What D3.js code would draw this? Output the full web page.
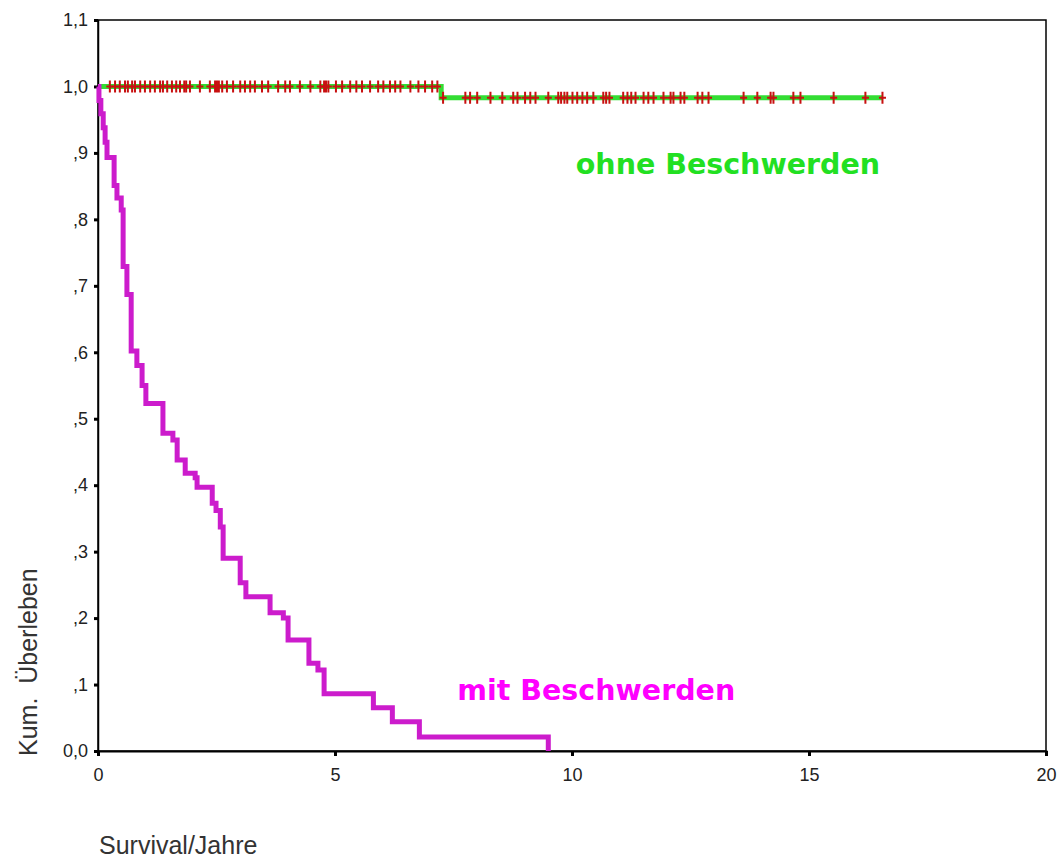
<!DOCTYPE html>
<html>
<head>
<meta charset="utf-8">
<script src="https://cdn.jsdelivr.net/npm/d3@7"></script>
<style>
  html, body { margin: 0; padding: 0; background: #fff; }
  #chart-area { width: 1057px; height: 856px; }
</style>
</head>
<body>
<div id="chart-area"></div>
<script>
// mit Beschwerden: Zeitpunkte (Jahre) der Stufen und Überleben danach
const mitTimes = [0, 0.02, 0.06, 0.11, 0.15, 0.19, 0.34, 0.40, 0.49, 0.53, 0.61, 0.70, 0.82, 0.93, 1.01,
    1.37, 1.58, 1.67, 1.84, 2.05, 2.09, 2.41, 2.49, 2.58, 2.64, 3.00, 3.12, 3.63, 3.91, 4.01,
    4.45, 4.64, 4.77, 5.81, 6.21, 6.78, 9.50];
const mitSurv = [1.0, 0.979, 0.959, 0.938, 0.916, 0.893, 0.851, 0.832, 0.814, 0.729, 0.687, 0.602, 0.580, 0.550, 0.523,
    0.478, 0.468, 0.438, 0.418, 0.411, 0.397, 0.373, 0.362, 0.337, 0.290, 0.253, 0.232, 0.208, 0.200, 0.167,
    0.132, 0.122, 0.086, 0.065, 0.044, 0.021, 0.0];

// ohne Beschwerden
const ohneTimes = [0, 7.24, 16.55];
const ohneSurv = [1.0, 0.983, 0.983];
// zensierte Fälle (Jahre)
const ohneCensored = [0.25, 0.36, 0.46, 0.57, 0.63, 0.72, 0.78, 0.89, 0.99, 1.10, 1.20, 1.31, 1.37, 1.46, 1.56,
    1.65, 1.73, 1.82, 1.86, 1.94, 2.15, 2.36, 2.47, 2.51, 2.55, 2.62, 2.72, 2.85, 3.00, 3.10, 3.21, 3.31,
    3.46, 3.59, 3.80, 3.95, 4.05, 4.26, 4.48, 4.69, 4.77, 4.81, 4.86, 5.02, 5.15, 5.32, 5.45, 5.57, 5.74,
    5.91, 6.02, 6.16, 6.27, 6.38, 6.59, 6.76, 6.90, 7.05, 7.16,
    7.28, 7.75, 7.85, 8.00, 8.28, 8.53, 8.76, 8.85, 9.01, 9.12, 9.23, 9.50, 9.71, 9.77, 9.84, 9.90,
    10.01, 10.11, 10.22, 10.32, 10.45, 10.66, 10.72, 10.79, 11.08, 11.17, 11.25, 11.34, 11.51, 11.61,
    11.72, 11.93, 12.08, 12.14, 12.29, 12.37, 12.65, 12.75, 12.88, 13.62, 13.91, 14.19, 14.25, 14.67,
    14.82, 15.52, 16.19, 16.55];

// Achsenbeschriftungen
const xTicks = [0, 5, 10, 15, 20];
const yTicks = [0, 0.1, 0.2, 0.3, 0.4, 0.5, 0.6, 0.7, 0.8, 0.9, 1.0, 1.1];
const yTickLabels = ['0,0', ',1', ',2', ',3', ',4', ',5', ',6', ',7', ',8', ',9', '1,0', '1,1'];

const width = 1057;
const height = 856;
const margin = { top: 20, right: 11, bottom: 105, left: 98 };
const innerWidth = width - margin.left - margin.right;
const innerHeight = height - margin.top - margin.bottom;

const svg = d3.select('#chart-area').append('svg')
    .attr('width', width)
    .attr('height', height);

const g = svg.append('g')
    .attr('transform', `translate(${margin.left}, ${margin.top})`);

const xScale = d3.scaleLinear().domain([0, 20]).range([0, innerWidth]);
const yScale = d3.scaleLinear().domain([0, 1.1]).range([innerHeight, 0]);

// Rahmen
g.append('rect')
    .attr('width', innerWidth)
    .attr('height', innerHeight)
    .attr('fill', 'none')
    .attr('stroke', '#000')
    .attr('stroke-width', 1.5);

// x-Achse
const xAxis = g.append('g')
    .attr('transform', `translate(0, ${innerHeight})`)
    .call(d3.axisBottom(xScale).tickValues(xTicks).tickSize(5).tickPadding(12));
xAxis.select('.domain').attr('stroke-width', 2);
xAxis.selectAll('.tick line').attr('stroke-width', 3);
xAxis.selectAll('text')
    .attr('font-family', 'Liberation Sans, Arial, sans-serif')
    .attr('font-size', '18px')
    .attr('fill', '#222');

// y-Achse
const yAxis = g.append('g')
    .call(d3.axisLeft(yScale).tickValues(yTicks).tickSize(4).tickPadding(6)
        .tickFormat((d, i) => yTickLabels[i]));
yAxis.select('.domain').attr('stroke-width', 1.5);
yAxis.selectAll('.tick line').attr('stroke-width', 3);
yAxis.selectAll('text')
    .attr('font-family', 'Liberation Sans, Arial, sans-serif')
    .attr('font-size', '18px')
    .attr('fill', '#222');

// Treppenkurven
const line = d3.line()
    .x(d => xScale(d[0]))
    .y(d => yScale(d[1]))
    .curve(d3.curveStepAfter);

g.append('path')
    .datum(ohneTimes.map((t, i) => [t, ohneSurv[i]]))
    .attr('d', line)
    .attr('fill', 'none')
    .attr('stroke', '#33dd33')
    .attr('stroke-width', 5);

// Zensierungsmarken
function survAt(t) {
    let s = ohneSurv[0];
    ohneTimes.forEach((ti, i) => { if (t >= ti) s = ohneSurv[i]; });
    return s;
}
g.selectAll('.censor')
    .data(ohneCensored)
    .enter()
    .append('path')
    .attr('class', 'censor')
    .attr('transform', d => `translate(${xScale(d)}, ${yScale(survAt(d))})`)
    .attr('d', 'M-3.5,0H3.5M0,-6V6')
    .attr('fill', 'none')
    .attr('stroke', '#c81010')
    .attr('stroke-width', 2);

g.append('path')
    .datum(mitTimes.map((t, i) => [t, mitSurv[i]]))
    .attr('d', line)
    .attr('fill', 'none')
    .attr('stroke', '#cc1ccc')
    .attr('stroke-width', 5);

// Beschriftungen der Gruppen
g.append('text')
    .attr('x', xScale(10.08))
    .attr('y', yScale(0.868))
    .attr('font-family', 'DejaVu Sans, Verdana, sans-serif')
    .attr('font-weight', 'bold')
    .attr('font-size', '28.5px')
    .attr('fill', '#22e022')
    .text('ohne Beschwerden');

g.append('text')
    .attr('x', xScale(7.58))
    .attr('y', yScale(0.077))
    .attr('font-family', 'DejaVu Sans, Verdana, sans-serif')
    .attr('font-weight', 'bold')
    .attr('font-size', '28.5px')
    .attr('fill', '#ff00ff')
    .text('mit Beschwerden');

// Achsentitel
svg.append('text')
    .attr('transform', 'translate(37, 756) rotate(-90)')
    .attr('font-family', 'Liberation Sans, Arial, sans-serif')
    .attr('font-size', '25px')
    .attr('fill', '#333')
    .style('white-space', 'pre')
    .text('Kum.  Überleben');

svg.append('text')
    .attr('x', 99)
    .attr('y', 854)
    .attr('font-family', 'Liberation Sans, Arial, sans-serif')
    .attr('font-size', '25px')
    .attr('fill', '#333')
    .text('Survival/Jahre');
</script>
</body>
</html>
